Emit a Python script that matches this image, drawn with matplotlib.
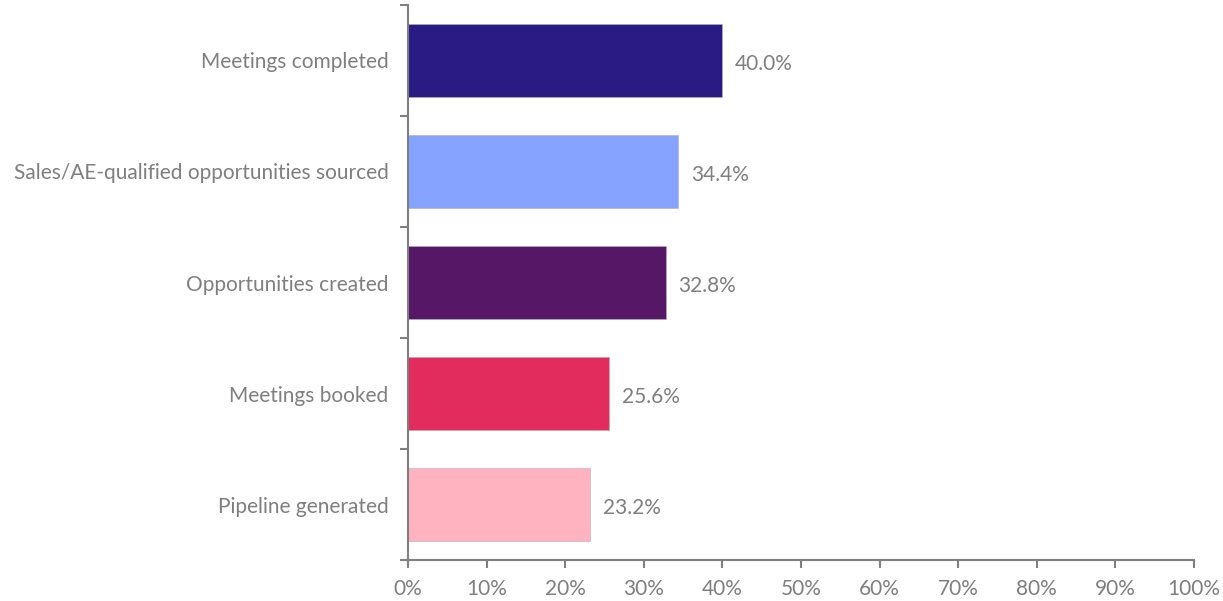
import numpy as np
import matplotlib.pyplot as plt
from matplotlib.ticker import FixedLocator, PercentFormatter

plt.rcParams['font.family'] = ['Lato', 'DejaVu Sans']

categories = ['Meetings completed', 'Sales/AE-qualified opportunities sourced',
              'Opportunities created', 'Meetings booked', 'Pipeline generated']
values = [40.0, 34.4, 32.8, 25.6, 23.2]
colors = ['#2A1A84', '#86A4FF', '#561766', '#E32C5E', '#FFB3C1']

grey = '#7F7F7F'

fig = plt.figure(figsize=(12.23, 6.01), dpi=100)
ax = fig.add_axes([0.3336, 0.0682, 0.6427, 0.9235])

y = np.arange(len(categories))[::-1]
bars = ax.barh(y, values, height=0.66, color=colors, edgecolor='#B0B0B0', linewidth=0.4)

# value labels sit a touch below the bar centre
for b, v in zip(bars, values):
    ax.text(b.get_width() + 1.6, b.get_y() + b.get_height() / 2 - 0.03, f'{v:.1f}%',
            va='center', ha='left', fontsize=15, color=grey)

ax.set_xlim(0, 100)
ax.set_ylim(-0.5, len(categories) - 0.5)
ax.set_xticks(np.arange(0, 101, 10))
ax.xaxis.set_major_formatter(PercentFormatter(decimals=0))

ax.set_yticks(y)
ax.set_yticklabels(categories)
ax.yaxis.set_minor_locator(FixedLocator(np.arange(-0.5, len(categories), 1)))

for s in ['top', 'right']:
    ax.spines[s].set_visible(False)
for s in ['left', 'bottom']:
    ax.spines[s].set_color(grey)
    ax.spines[s].set_linewidth(1.5)

ax.tick_params(axis='y', which='major', length=0, pad=14, labelsize=15, labelcolor=grey)
ax.tick_params(axis='y', which='minor', length=6, width=1.5, color=grey)
ax.tick_params(axis='x', which='major', length=6, width=1.5, color=grey,
               labelsize=15, labelcolor=grey, pad=8)

fig.savefig('out.png', dpi=100)
